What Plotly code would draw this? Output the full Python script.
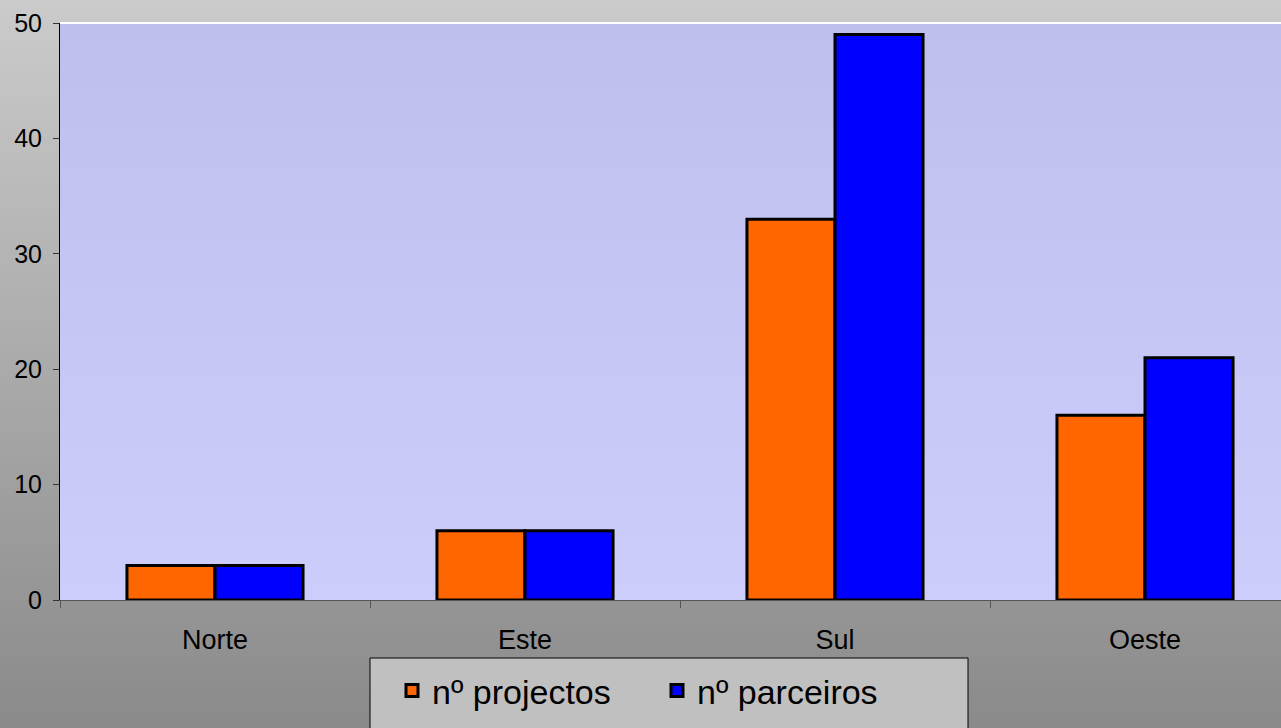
import plotly.graph_objects as go

categories = ["Norte", "Este", "Sul", "Oeste"]
projectos = [3, 6, 33, 16]
parceiros = [3, 6, 49, 21]
series_names = ["nº projectos", "nº parceiros"]
y_ticks = [0, 10, 20, 30, 40, 50]

W, H = 1281, 728
ML, MR, MT, MB = 60, 0, 23, 128
PW, PH = W - ML - MR, H - MT - MB
CAT_PX = 310

FONT = "Liberation Sans, Arial, sans-serif"


def px_x(p):
    return (p - ML) / PW


def px_y(p):
    return (H - MB - p) / PH


def lerp(c1, c2, t):
    return "rgb(%d,%d,%d)" % tuple(round(a + (b - a) * t) for a, b in zip(c1, c2))


shapes = []
# figure background gradient
bg_top, bg_bot = (203, 203, 203), (138, 138, 138)
step = 8
for y0 in range(0, H, step):
    y1 = min(H, y0 + step)
    shapes.append(dict(type="rect", xref="paper", yref="paper", layer="below",
                       x0=px_x(0), x1=px_x(W), y0=px_y(y1), y1=px_y(y0),
                       fillcolor=lerp(bg_top, bg_bot, (y0 + step / 2) / H),
                       line=dict(width=0)))
# plot area gradient
pa_top, pa_bot = (191, 191, 239), (205, 205, 252)
for y0 in range(MT, H - MB, step):
    y1 = min(H - MB, y0 + step)
    shapes.append(dict(type="rect", xref="paper", yref="paper", layer="below",
                       x0=0, x1=1, y0=px_y(y1), y1=px_y(y0),
                       fillcolor=lerp(pa_top, pa_bot, (y0 - MT + step / 2) / PH),
                       line=dict(width=0)))
# white top border of plot area
shapes.append(dict(type="line", xref="paper", yref="paper", layer="below",
                   x0=0, x1=1, y0=1, y1=1, line=dict(color="white", width=2)))
# legend box
shapes.append(dict(type="rect", xref="paper", yref="paper", layer="above",
                   x0=px_x(370), x1=px_x(968), y0=px_y(740), y1=px_y(658),
                   fillcolor="#C0C0C0", line=dict(color="black", width=1)))

fig = go.Figure()
fig.add_trace(go.Bar(x=categories, y=projectos, name=series_names[0],
                     marker=dict(color="#FF6600", line=dict(color="black", width=3))))
fig.add_trace(go.Bar(x=categories, y=parceiros, name=series_names[1],
                     marker=dict(color="#0000FF", line=dict(color="black", width=3))))

fig.update_layout(
    width=W, height=H,
    margin=dict(l=ML, r=MR, t=MT, b=MB, autoexpand=False),
    paper_bgcolor="#ABABAB",
    plot_bgcolor="rgba(0,0,0,0)",
    barmode="group",
    bargap=0.432,
    bargroupgap=0,
    shapes=shapes,
    font=dict(family=FONT, color="black"),
    hovermode=False,
    showlegend=True,
    legend=dict(orientation="h", x=px_x(392), xanchor="left",
                y=px_y(662), yanchor="top",
                bgcolor="rgba(0,0,0,0)", borderwidth=0,
                font=dict(size=34, family=FONT, color="black"),
                entrywidth=220, entrywidthmode="pixels",
                traceorder="normal"),
    xaxis=dict(range=[-0.5, -0.5 + PW / CAT_PX], showgrid=False, zeroline=False,
               showline=True, linecolor="#555555", linewidth=1,
               ticks="outside", tickson="boundaries", ticklen=7, tickcolor="#555555",
               ticklabelstandoff=16,
               tickfont=dict(size=27, family=FONT), fixedrange=True),
    yaxis=dict(range=[0, 50], tickvals=y_ticks, showgrid=False, zeroline=False,
               showline=True, linecolor="black", linewidth=1,
               ticks="outside", ticklen=6, tickcolor="#333333",
               ticklabelstandoff=6,
               tickfont=dict(size=25, family=FONT), fixedrange=True),
)

fig.write_html("out.html", config={"displayModeBar": False},
               post_script="document.body.style.margin='0';")
